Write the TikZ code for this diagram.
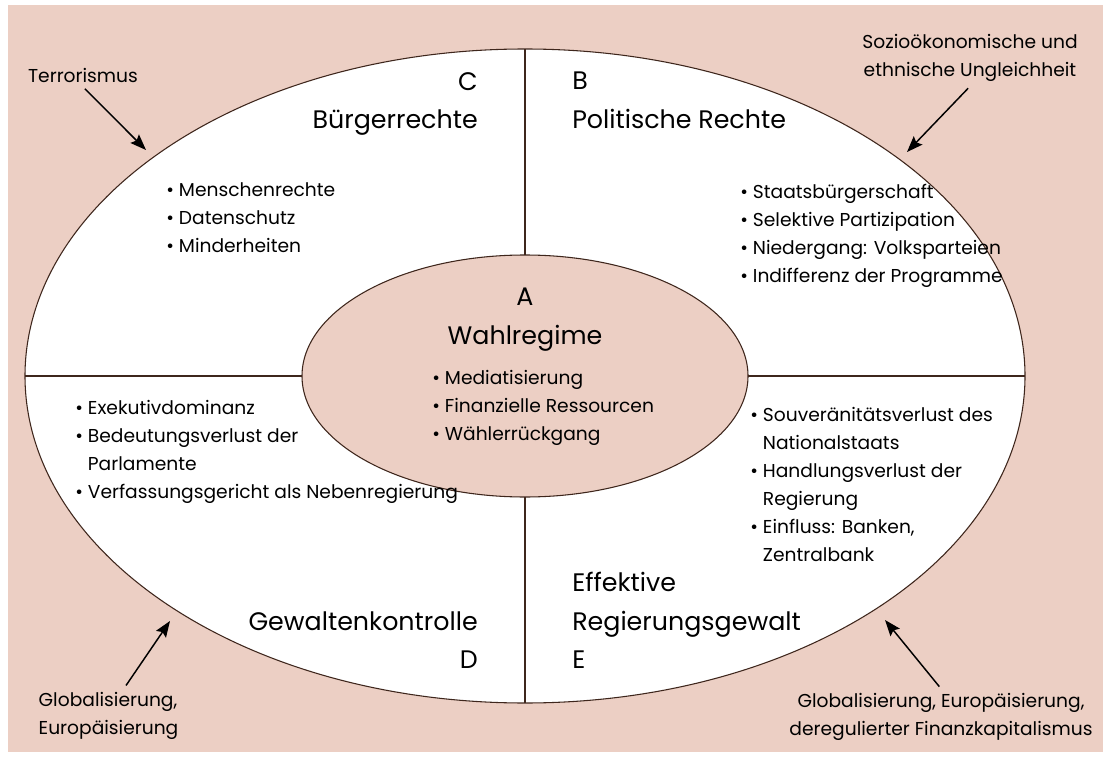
\documentclass[tikz,border=0pt]{standalone}
\usepackage{fontspec}
\setmainfont{Poppins}
\usepackage{tikz}
\usetikzlibrary{math,arrows.meta}
\definecolor{DemoRose}{RGB}{236,207,196}
\definecolor{DemoBrown}{RGB}{62,38,28}
\tikzset{%
  pixel/.style={x=0.75pt,y=-0.75pt},
  rim/.style={draw=DemoBrown, line width=0.8pt},
  head/.style={font=\fontsize{19}{29}\selectfont, inner sep=0pt},
  items/.style={font=\fontsize{14}{21}\selectfont, inner sep=0pt, align=left},
  remark/.style={font=\fontsize{14}{21}\selectfont},
  push/.style={-{Stealth[length=12pt,width=9pt,inset=2pt]}, line width=1.1pt, shorten <=2pt}
}
\newcommand*{\itm}{\textbullet\ }
\newcommand*{\hang}{\phantom{\textbullet\ }}

\begin{document}
\begin{tikzpicture}[pixel]
    \tikzmath{
      \cx=525; \cy=376;% centre of both ellipses
      \oa=500; \ob=327;% outer half-axes
      \ia=223; \ib=121;% inner half-axes
    }
    \useasboundingbox (0,0) rectangle (1103,759);
    % Background.
    \fill[DemoRose] (8,5) rectangle (1103,752);
    % Outer ellipse and the four fields.
    \filldraw[rim, fill=white] (\cx,\cy) ellipse [x radius=\oa*0.75pt, y radius=\ob*0.75pt];
    \draw[rim] (\cx,\cy-\ob) -- (\cx,\cy+\ob);
    \draw[rim] (\cx-\oa,\cy) -- (\cx+\oa,\cy);
    % Core ellipse.
    \filldraw[rim, fill=DemoRose] (\cx,\cy) ellipse [x radius=\ia*0.75pt, y radius=\ib*0.75pt];
    % Field labels.
    \node[head, anchor=north east, align=right] (labC) at (478,72) {C\\Bürgerrechte};
    \node[head, anchor=north west, align=left] (labB) at (572,72) {B\\Politische Rechte};
    \node[head, anchor=north, align=center] (labA) at (\cx,288) {A\\Wahlregime};
    \node[head, anchor=north east, align=right] (labD) at (478,611) {Gewaltenkontrolle\\D};
    \node[head, anchor=north west, align=left] (labE) at (572,572) {Effektive\\Regierungsgewalt\\E};
    % Items of each field.
    \node[items, anchor=north west] (itmC) at (166,182)
      {\itm Menschenrechte\\\itm Datenschutz\\\itm Minderheiten};
    \node[items, anchor=north west] (itmB) at (740,184)
      {\itm Staatsbürgerschaft\\\itm Selektive Partizipation\\\itm Niedergang: Volksparteien\\\itm Indifferenz der Programme};
    \node[items, anchor=north west] (itmA) at (432,370)
      {\itm Mediatisierung\\\itm Finanzielle Ressourcen\\\itm Wählerrückgang};
    \node[items, anchor=north west] (itmD) at (75,400)
      {\itm Exekutivdominanz\\\itm Bedeutungsverlust der\\\hang Parlamente\\\itm Verfassungsgericht als Nebenregierung};
    \node[items, anchor=north west] (itmE) at (750,407)
      {\itm Souveränitätsverlust des\\\hang Nationalstaats\\\itm Handlungsverlust der\\\hang Regierung\\\itm Einfluss: Banken,\\\hang Zentralbank};
    % Pressures from outside.
    \node[remark] (terr) at (83,75) {Terrorismus};
    \node[remark, align=center] (ungl) at (970,58) {Sozioökonomische und\\ethnische Ungleichheit};
    \node[remark, align=left, anchor=west] (globL) at (34,716) {Globalisierung,\\Europäisierung};
    \node[remark, align=center] (globR) at (941,717) {Globalisierung, Europäisierung,\\deregulierter Finanzkapitalismus};
    \coordinate (tipC) at (146,150);
    \coordinate (tipB) at (907,152);
    \coordinate (tipD) at (170,621);
    \coordinate (tipE) at (885,620);
    \draw[push] (terr.south) -- (tipC);
    \draw[push] (ungl.south) -- (tipB);
    \draw[push] ([xshift=12pt]globL.north) -- (tipD);
    \draw[push] (globR.north) -- (tipE);
\end{tikzpicture}
\end{document}
